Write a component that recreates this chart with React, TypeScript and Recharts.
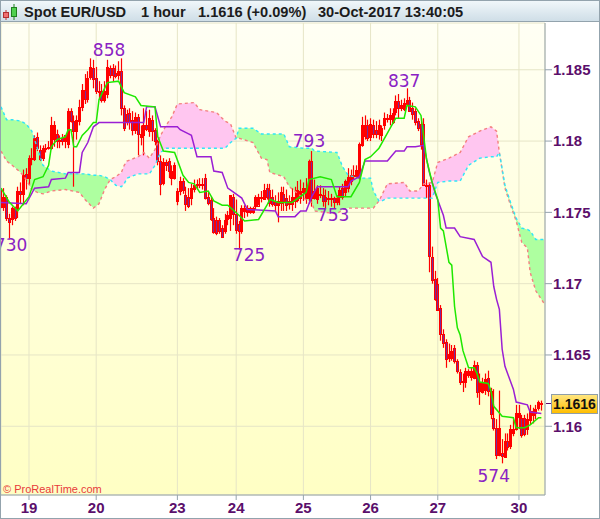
import React from 'react'
import { ComposedChart, Bar, Line, Area, XAxis, YAxis, CartesianGrid, ReferenceDot } from 'recharts'

// prices are kept as the last four digits: 1754 means 1.1754
const opens = [
  1754,1754,1761,1746,1745,1753,1753,1765,1763,1777,
  1774,1787,1787,1803,1794,1788,1795,1795,1795,1801,
  1805,1800,1802,1800,1798,1821,1814,1807,1814,1824,
  1836,1829,1845,1851,1844,1835,1835,1829,1833,1851,
  1851,1848,1846,1849,1823,1819,1820,1815,1808,1817,
  1803,1804,1811,1807,1815,1808,1800,1786,1770,1785,
  1786,1774,1774,1758,1765,1772,1762,1761,1760,1766,
  1769,1769,1770,1774,1761,1759,1746,1745,1745,1739,
  1737,1745,1746,1761,1749,1742,1737,1751,1750,1750,
  1750,1755,1755,1760,1760,1767,1766,1761,1757,1755,
  1756,1763,1760,1756,1756,1758,1759,1760,1764,1760,
  1760,1786,1760,1759,1762,1762,1761,1760,1760,1760,
  1757,1761,1767,1764,1767,1772,1775,1776,1774,1797,
  1803,1811,1803,1811,1808,1805,1804,1811,1815,1815,
  1814,1820,1828,1823,1823,1826,1829,1823,1821,1814,
  1812,1812,1769,1769,1719,1703,1700,1683,1665,1659,
  1648,1648,1655,1646,1638,1632,1631,1636,1635,1634,
  1643,1625,1624,1625,1634,1625,1606,1599,1580,1581,
  1579,1590,1586,1595,1598,1606,1606,1606,1598,1605,
  1608,1609,1613,1615,
]
const highs = [
  1766,1767,1762,1749,1754,1754,1768,1771,1780,1781,
  1790,1795,1804,1806,1797,1797,1798,1800,1817,1814,
  1808,1804,1805,1804,1823,1823,1818,1818,1829,1840,
  1847,1849,1858,1857,1852,1842,1840,1842,1857,1853,
  1854,1853,1856,1858,1825,1822,1823,1821,1820,1819,
  1811,1823,1821,1822,1818,1809,1801,1790,1788,1787,
  1788,1783,1785,1767,1775,1774,1768,1767,1770,1773,
  1773,1774,1774,1777,1765,1761,1753,1747,1746,1741,
  1749,1751,1762,1763,1759,1744,1755,1755,1755,1754,
  1754,1762,1763,1765,1770,1770,1770,1766,1762,1764,
  1768,1768,1766,1762,1767,1768,1772,1773,1771,1774,
  1787,1793,1773,1769,1769,1767,1766,1765,1763,1761,
  1762,1768,1770,1773,1781,1780,1783,1783,1799,1817,
  1818,1815,1816,1815,1814,1815,1811,1820,1819,1823,
  1823,1832,1833,1829,1830,1837,1831,1827,1823,1816,
  1816,1816,1773,1771,1726,1709,1704,1685,1668,1661,
  1658,1657,1657,1647,1640,1637,1641,1640,1641,1646,
  1645,1637,1634,1637,1639,1627,1626,1605,1625,1591,
  1595,1595,1601,1605,1615,1615,1608,1608,1609,1615,
  1613,1615,1618,1618,
]
const lows = [
  1753,1751,1744,1731,1741,1744,1746,1756,1755,1766,
  1769,1783,1786,1793,1786,1786,1792,1794,1794,1796,
  1795,1795,1797,1795,1795,1813,1768,1801,1811,1821,
  1826,1827,1843,1837,1833,1829,1827,1827,1830,1844,
  1842,1844,1843,1818,1807,1811,1808,1804,1805,1790,
  1797,1790,1807,1803,1800,1797,1783,1762,1769,1779,
  1774,1769,1773,1755,1762,1763,1751,1753,1755,1764,
  1766,1767,1766,1759,1755,1744,1735,1734,1735,1732,
  1735,1741,1737,1741,1735,1724,1735,1746,1747,1749,
  1749,1752,1755,1757,1759,1759,1754,1754,1751,1743,
  1751,1751,1751,1752,1751,1753,1757,1756,1758,1756,
  1756,1754,1759,1756,1760,1754,1753,1755,1754,1753,
  1755,1755,1759,1761,1764,1769,1773,1774,1773,1796,
  1801,1800,1800,1802,1802,1801,1800,1808,1813,1811,
  1812,1818,1816,1821,1821,1825,1821,1815,1811,1807,
  1794,1769,1760,1708,1700,1688,1681,1660,1655,1641,
  1645,1646,1644,1637,1629,1624,1627,1634,1632,1633,
  1620,1615,1623,1622,1621,1605,1597,1577,1579,1574,
  1578,1583,1584,1593,1597,1598,1592,1593,1594,1601,
  1602,1605,1611,1611,
]
const closes = [
  1759,1761,1746,1743,1753,1746,1765,1763,1776,1774,
  1788,1788,1802,1795,1788,1795,1795,1796,1811,1811,
  1800,1801,1800,1804,1821,1814,1807,1815,1824,1836,
  1830,1844,1852,1843,1835,1835,1829,1835,1852,1846,
  1846,1846,1849,1823,1809,1814,1814,1808,1817,1805,
  1805,1811,1808,1816,1807,1800,1786,1770,1785,1783,
  1779,1779,1783,1765,1772,1766,1756,1755,1767,1769,
  1770,1770,1770,1760,1757,1746,1736,1736,1737,1733,
  1745,1748,1762,1749,1738,1737,1753,1753,1753,1753,
  1753,1761,1761,1761,1766,1761,1757,1756,1755,1758,
  1764,1758,1755,1758,1761,1761,1766,1765,1767,1767,
  1786,1760,1765,1767,1763,1758,1758,1760,1760,1757,
  1760,1766,1761,1772,1775,1776,1776,1780,1798,1811,
  1811,1802,1812,1805,1805,1811,1809,1816,1816,1818,
  1820,1828,1823,1825,1827,1829,1821,1819,1813,1809,
  1798,1769,1769,1719,1703,1689,1682,1665,1659,1647,
  1651,1653,1646,1639,1631,1631,1639,1639,1639,1643,
  1624,1631,1631,1633,1625,1609,1599,1580,1599,1579,
  1590,1586,1598,1598,1609,1609,1594,1595,1605,1611,
  1611,1612,1617,1616,
]

const tenkanBars = [0,3,6,10,12,15,17,18,20,23,24,25,26,27,29,31,33,34,35,38,42,44,48,50,55,56,58,62,65,67,69,71,74,76,79,81,85,87,92,95,96,99,104,109,110,114,118,120,125,128,130,132,135,139,141,144,145,148,150,151,152,154,156,157,158,160,161,162,163,164,165,167,169,170,171,174,175,176,179,183,184,187,189,192,193]
const tenkanValues = [1767,1757,1751,1761,1773,1775,1783,1796,1801,1803,1808,1808,1796,1796,1804,1808,1813,1813,1829,1841,1842,1834,1831,1825,1824,1803,1793,1792,1776,1771,1770,1764,1765,1758,1755,1755,1748,1744,1745,1755,1759,1757,1757,1764,1773,1775,1773,1761,1761,1771,1787,1789,1795,1809,1816,1816,1825,1824,1818,1803,1787,1771,1759,1739,1737,1715,1713,1684,1669,1664,1653,1641,1641,1637,1631,1630,1625,1614,1607,1606,1599,1599,1601,1606,1606]

const kijunBars = [0,9,12,17,18,23,24,28,29,31,33,35,51,52,55,57,63,64,67,68,70,75,76,79,81,86,88,98,99,105,107,109,111,113,124,125,128,130,138,141,144,145,148,151,153,155,158,159,162,164,169,172,175,176,177,178,179,180,183,184,188,189,193]
const kijunValues = [1757,1756,1767,1768,1773,1774,1778,1778,1792,1799,1810,1813,1813,1824,1824,1810,1810,1808,1805,1804,1789,1789,1779,1778,1767,1760,1752,1751,1747,1747,1751,1751,1761,1768,1768,1772,1775,1786,1786,1793,1793,1796,1796,1797,1778,1764,1748,1739,1739,1733,1731,1719,1715,1698,1689,1682,1654,1642,1626,1617,1615,1610,1609]

const cloudBars = [0,2,4,7,9,11,13,15,18,23,28,30,33,35,37,39,41,43,44,45,49,51,53,55,57,59,61,63,69,71,77,79,80,82,84,85,90,93,95,96,101,103,108,111,112,120,122,124,128,132,133,135,136,138,144,146,149,151,154,156,160,164,167,171,175,177,178,180,182,184,186,188,189,191,193,194]
const spanA = [1824,1815,1815,1814,1812,1807,1795,1783,1779,1777,1777,1777,1776,1776,1775,1773,1769,1768,1770,1774,1777,1777,1777,1783,1792,1795,1795,1795,1795,1795,1795,1795,1795,1799,1802,1809,1809,1805,1805,1805,1805,1796,1795,1795,1793,1792,1782,1776,1774,1774,1765,1758,1758,1760,1760,1760,1760,1760,1760,1771,1772,1772,1783,1788,1789,1789,1792,1769,1757,1746,1739,1738,1737,1731,1731,1731]
const spanB = [1793,1786,1783,1778,1773,1766,1764,1763,1765,1766,1764,1759,1753,1756,1766,1773,1775,1778,1783,1786,1789,1792,1788,1794,1804,1811,1817,1826,1827,1822,1820,1816,1814,1812,1802,1802,1799,1788,1787,1778,1775,1768,1760,1757,1751,1749,1752,1753,1753,1753,1753,1758,1762,1770,1771,1765,1765,1770,1771,1785,1788,1792,1803,1807,1810,1807,1792,1767,1755,1744,1729,1725,1708,1695,1689,1686]

const dayTicks = [10,34,63,84,108,132,156,185]
const dayLabels = ['19','20','23','24','25','26','27','30']
const priceTicks = [1.16,1.165,1.17,1.175,1.18,1.185]

const noteBars = [38.6,3.6,88.6,110,118.6,144,176]
const noteValues = [1864,1727,1720,1800,1748,1842,1565]
const noteLabels = ['858','730','725','793','753','837','574']

const price = (v: number) => 1 + v / 10000

const candleRows = opens.map((o, i) => ({
  bar: i,
  open: price(o),
  high: price(highs[i]),
  low: price(lows[i]),
  close: price(closes[i]),
}))
const tenkanRows = tenkanBars.map((bar, i) => ({ bar, value: price(tenkanValues[i]) }))
const kijunRows = kijunBars.map((bar, i) => ({ bar, value: price(kijunValues[i]) }))
const cloudRows = cloudBars.map((bar, i) => ({
  bar,
  spanA: price(spanA[i]),
  spanB: price(spanB[i]),
  range: [price(Math.min(spanA[i], spanB[i])), price(Math.max(spanA[i], spanB[i]))],
}))
const greenRows = cloudRows.filter((r) => r.spanA >= r.spanB)
const pinkRows = cloudRows.filter((r) => r.spanB >= r.spanA)

const Candle = (props: any) => {
  const { x, y, width, height, payload } = props
  const { open, high, low, close } = payload
  const perUnit = height / (high - low)
  const top = y + (high - Math.max(open, close)) * perUnit
  const bottom = y + (high - Math.min(open, close)) * perUnit
  const left = Math.round(x) + 0.5
  const mid = left + 1
  const up = close >= open
  return (
    <g>
      <line x1={mid} x2={mid} y1={y} y2={y + height} stroke="#ff0000" strokeWidth={1.2} />
      <rect
        x={left}
        y={Math.round(top) + 0.5}
        width={2}
        height={Math.max(Math.round(bottom - top), 1)}
        stroke="#ff0000"
        fill={up ? 'none' : '#7a2a98'}
      />
    </g>
  )
}

const axisText = { fill: '#5b0f6b', fontFamily: 'Liberation Sans', fontSize: 15, fontWeight: 700 }

export default function App() {
  return (
    <div style={{ position: 'absolute', left: 0, top: 0, width: 600, height: 519, background: '#fff', overflow: 'hidden' }}>
      <ComposedChart
        width={600}
        height={519}
        data={candleRows}
        margin={{ top: 23, right: 0, bottom: 0, left: 1 }}
      >
        <defs>
          <linearGradient id="plotBg" x1="0" y1="0" x2="0" y2="1">
            <stop offset="0%" stopColor="#fffff4" />
            <stop offset="100%" stopColor="#ffffc4" />
          </linearGradient>
        </defs>
        <CartesianGrid stroke="#e6e5c6" fill="url(#plotBg)" fillOpacity={1} />
        <XAxis
          dataKey="bar"
          type="number"
          domain={[0, 194.3]}
          ticks={dayTicks}
          tickFormatter={(v: number) => dayLabels[dayTicks.indexOf(v)]}
          interval={0}
          height={24}
          stroke="#95a3ad"
          tickSize={5}
          tickMargin={2}
          tick={axisText}
        />
        <YAxis
          orientation="right"
          type="number"
          domain={[1.15518, 1.18828]}
          ticks={priceTicks}
          interval={0}
          width={55}
          stroke="#95a3ad"
          tickSize={7}
          tickMargin={1}
          tick={axisText}
        />
        <Area data={greenRows} dataKey="range" type="linear" fill="#aeffa0" fillOpacity={1} stroke="none" isAnimationActive={false} />
        <Area data={pinkRows} dataKey="range" type="linear" fill="#ffc6f0" fillOpacity={1} stroke="none" isAnimationActive={false} />
        <Line data={cloudRows} dataKey="spanB" type="linear" stroke="#f47f7f" strokeWidth={1.4} strokeDasharray="3 3" dot={false} isAnimationActive={false} />
        <Line data={cloudRows} dataKey="spanA" type="linear" stroke="#2fe6f8" strokeWidth={1.4} strokeDasharray="3 3" dot={false} isAnimationActive={false} />
        <Bar dataKey={(r: any) => [r.low, r.high]} barSize={3} shape={<Candle />} isAnimationActive={false} />
        <Line data={kijunRows} dataKey="value" type="linear" stroke="#9a1fd4" strokeWidth={1.5} dot={false} isAnimationActive={false} />
        <Line data={tenkanRows} dataKey="value" type="linear" stroke="#1fe800" strokeWidth={1.5} dot={false} isAnimationActive={false} />
        {noteLabels.map((label, i) => (
          <ReferenceDot
            key={label}
            x={noteBars[i]}
            y={price(noteValues[i])}
            r={0}
            stroke="none"
            ifOverflow="visible"
            label={{ value: label, position: 'center', fill: '#8a22c4', fontFamily: 'DejaVu Sans', fontSize: 17 }}
          />
        ))}
      </ComposedChart>

      {/* header strip */}
      <div
        style={{
          position: 'absolute',
          left: 0,
          top: 0,
          width: 600,
          height: 22,
          boxSizing: 'border-box',
          background: 'linear-gradient(#f2f8fb, #cfdee7)',
          borderBottom: '1px solid #93a3ad',
          fontFamily: 'Liberation Sans',
          fontWeight: 700,
          fontSize: 14.6,
          color: '#1c1c1c',
          lineHeight: '24px',
          whiteSpace: 'pre',
        }}
      >
        <svg width={20} height={22} style={{ position: 'absolute', left: 0, top: 0 }}>
          <line x1={6} x2={6} y1={10} y2={20} stroke="#c03030" />
          <rect x={3.5} y={12.5} width={5} height={5} fill="#f07070" stroke="#b03030" />
          <line x1={14} x2={14} y1={4} y2={20} stroke="#208020" />
          <rect x={11.5} y={7.5} width={5} height={9} fill="#50d050" stroke="#208020" />
        </svg>
        <span style={{ position: 'absolute', left: 24, top: 0 }}>Spot EUR/USD</span>
        <span style={{ position: 'absolute', left: 141, top: 0 }}>1 hour</span>
        <span style={{ position: 'absolute', left: 198, top: 0 }}>1.1616 (+0.09%)</span>
        <span style={{ position: 'absolute', left: 318, top: 0 }}>30-Oct-2017 13:40:05</span>
      </div>

      {/* last price tag */}
      <div style={{ position: 'absolute', left: 546, top: 403, width: 7, height: 1, background: '#5b0f6b' }} />
      <div
        style={{
          position: 'absolute',
          left: 551,
          top: 394,
          width: 47,
          height: 20,
          boxSizing: 'border-box',
          border: '1px solid #8f9ea8',
          background: 'linear-gradient(#ffe680, #ffbe00)',
          fontFamily: 'Liberation Sans',
          fontWeight: 700,
          fontSize: 14,
          lineHeight: '18px',
          textAlign: 'center',
          color: '#111',
        }}
      >
        1.1616
      </div>

      <div style={{ position: 'absolute', left: 3, top: 483, fontFamily: 'Liberation Sans', fontSize: 11, color: '#e83a3a', lineHeight: '13px' }}>
        © ProRealTime.com
      </div>

      {/* outer frame */}
      <div style={{ position: 'absolute', left: 0, top: 0, width: 600, height: 519, boxSizing: 'border-box', border: '1px solid #93a3ad', pointerEvents: 'none' }} />
    </div>
  )
}
